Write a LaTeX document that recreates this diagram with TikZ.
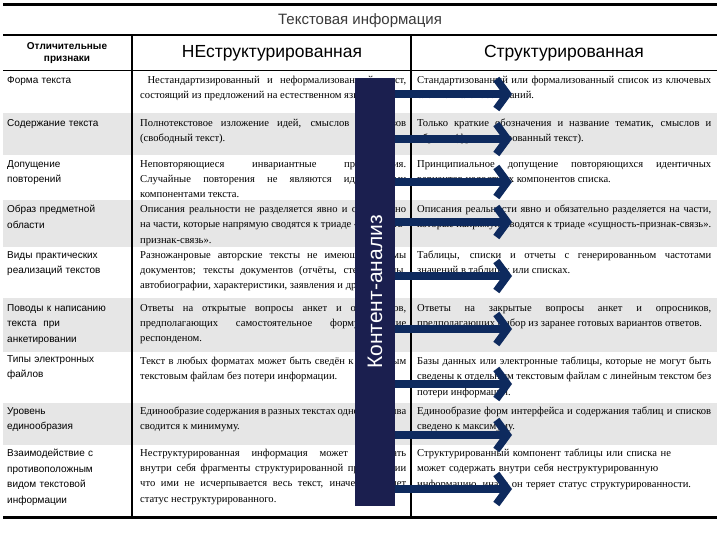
\documentclass[tikz,border=0pt]{standalone}
\usepackage{fontspec}
\setmainfont{Liberation Serif}
\newfontfamily\sansf{Liberation Sans}
\usetikzlibrary{arrows.meta}
\definecolor{barc}{HTML}{1B1F4F}
\definecolor{arrc}{HTML}{0E2A5E}
\definecolor{graybg}{HTML}{E6E6E6}
\definecolor{titlec}{HTML}{3A3A3A}
\begin{document}
\begin{tikzpicture}[x=1pt,y=-1pt,
 lab/.style={anchor=north west,inner sep=0pt,text width=124pt,align=left,font=\sansf\fontsize{10}{15.5}\selectfont},
 cel/.style={anchor=north west,inner sep=0pt,text width=266pt,align=justify,font=\fontsize{10.6}{15.2}\selectfont},
 cer/.style={anchor=north west,inner sep=0pt,text width=294pt,align=justify,font=\fontsize{10.6}{15.2}\selectfont},
 arr/.style={arrc,line width=7.5pt,-{Straight Barb[length=11pt,width=30pt,line width=7.5pt]}}]
\useasboundingbox (0,0) rectangle (720,540);
\fill[white] (0,0) rectangle (720,540);
% gray rows
\foreach \a/\b in {113/155,200/247,298/352,403/445}{\fill[graybg] (3,\a) rectangle (717,\b);}
% lines
\draw[line width=3pt] (3,5) -- (717,5);
\draw[line width=2pt] (3,35) -- (717,35);
\draw[line width=0.8pt] (3,70) -- (717,70);
\draw[line width=3pt] (3,517) -- (717,517);
\draw[line width=1.2pt] (132,35) -- (132,517);
\draw[line width=1.2pt] (411,35) -- (411,517);
% title & headers
\node[font=\sansf\fontsize{15}{17}\selectfont,text=titlec] (title) at (360,21) {Текстовая информация};
\node[font=\sansf\bfseries\fontsize{10}{12.5}\selectfont,align=center] (h1) at (67,53) {Отличительные\\признаки};
\node[font=\sansf\fontsize{17.5}{20}\selectfont] (h2) at (272,53) {НЕструктурированная};
\node[font=\sansf\fontsize{17.5}{20}\selectfont] (h3) at (564,53) {Структурированная};
% left column
\node[lab] (l1) at (7,76) {Форма текста};
\node[lab] (l2) at (7,119) {Содержание текста};
\node[lab] (l3) at (7,160) {Допущение\\повторений};
\node[lab] (l4) at (7,205) {Образ предметной\\области};
\node[lab] (l5) at (7,251) {Виды практических\\реализаций текстов};
\node[lab] (l6) at (7,304) {Поводы к написанию\\текста \ при\\анкетировании};
\node[lab] (l7) at (7,355) {Типы электронных\\файлов};
\node[lab] (l8) at (7,407) {Уровень\\единообразия};
\node[lab] (l9) at (7,449) {Взаимодействие с\\противоположным\\видом текстовой\\информации};
% middle column
\node[cel] (m1) at (140,76) {\ Нестандартизированный и неформализованный текст, состоящий из предложений на естественном языке.};
\node[cel] (m2) at (140,119) {Полнотекстовое изложение идей, смыслов и образов (свободный текст).};
\node[cel] (m3) at (140,160) {Неповторяющиеся инвариантные предложения. Случайные повторения не являются идентичными компонентами текста.};
\node[cel] (m4) at (140,205) {Описания реальности не разделяется явно и обязательно на части, которые напрямую сводятся к триаде «сущность-признак-связь».};
\node[cel] (m5) at (140,251) {Разножанровые авторские тексты не имеющие формы документов; тексты документов (отчёты, стенограммы, автобиографии, характеристики, заявления и др.).};
\node[cel] (m6) at (140,304) {Ответы на открытые вопросы анкет и опросников, предполагающих самостоятельное формулирование респонденом.};
\node[cel] (m7) at (140,357) {Текст в любых форматах может быть сведён к отдельным текстовым файлам без потери информации.};
\node[cel] (m8) at (140,407) {Единообразие содержания в разных текстах одного массива сводится к минимуму.};
\node[cel] (m9) at (140,449) {Неструктурированная информация может содержать внутри себя фрагменты структурированной при условии что ими не исчерпывается весь текст, иначе он теряет статус неструктурированного.};
% right column
\node[cer] (r1) at (417,76) {Стандартизованный или формализованный список из ключевых слов или словосочетаний.};
\node[cer] (r2) at (417,119) {Только краткие обозначения и название тематик, смыслов и образов (фрагментированный текст).};
\node[cer] (r3) at (417,160) {Принципиальное допущение повторяющихся идентичных вариантов целостных компонентов списка.};
\node[cer] (r4) at (417,205) {Описания реальности явно и обязательно разделяется на части, которые напрямую сводятся к триаде «сущность-признак-связь».};
\node[cer] (r5) at (417,251) {Таблицы, списки и отчеты с генерированньом частотами значений в таблицах или списках.};
\node[cer] (r6) at (417,304) {Ответы на закрытые вопросы анкет и опросников, предполагающих выбор из заранее готовых вариантов ответов.};
\node[cer] (r7) at (417,357) {Базы данных или электронные таблицы, которые не могут быть сведены к отдельным текстовым файлам с линейным текстом без потери информации.};
\node[cer] (r8) at (417,407) {Единообразие форм интерфейса и содержания таблиц и списков сведено к максимуму.};
\node[cer,align=left] (r9) at (417,449) {Структурированный компонент таблицы или списка не\\может содержать внутри себя неструктурированную\\информацию, иначе он теряет статус структурированности.};
% bar
\node[fill=barc,minimum width=40pt,minimum height=428pt,inner sep=0pt] (bar) at (375,292) {};
\node[rotate=90,text=white,font=\sansf\fontsize{21}{24}\selectfont] (bartext) at (bar.center) {Контент-анализ};
% arrows
\foreach \y [count=\i] in {94,139,182,222,276,329,384,435,489}{
 \coordinate (e\i) at (512,\y);
 \draw[arr] (bar.east |- e\i) -- (e\i);
}
\end{tikzpicture}
\end{document}
